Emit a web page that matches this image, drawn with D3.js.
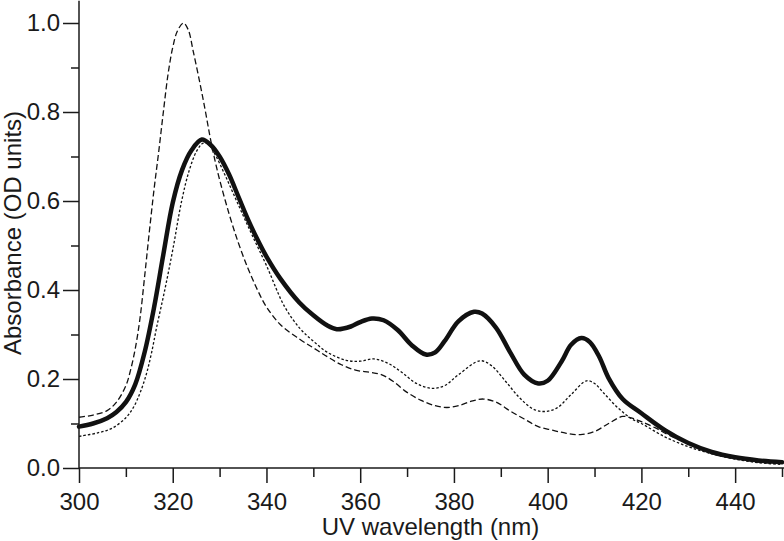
<!DOCTYPE html>
<html>
<head>
<meta charset="utf-8">
<script src="https://cdn.jsdelivr.net/npm/d3@7"></script>
<style>
  html, body { margin: 0; padding: 0; background: #fff; }
  svg { display: block; }
  text { font-family: "Liberation Sans", Arial, sans-serif; }
</style>
</head>
<body>
<svg id="chart" width="784" height="541"></svg>
<script>
// ---- data (wavelength nm, absorbance OD) ----
const solidWl = [300,303,306,308,310,312,314,316,318,320,322,324,326.2,328,330,332,334,336,338,340,343,347,350,353,355,358,360,362.5,365,368,371,374,376,378,381,384.3,386,389,392,395,398,400,403,405,407.2,409,411,413,416,420,425,430,435,440,445,450];
const solidAbs = [0.093,0.100,0.112,0.126,0.148,0.188,0.260,0.360,0.480,0.596,0.670,0.714,0.738,0.727,0.700,0.660,0.610,0.560,0.515,0.475,0.425,0.372,0.343,0.320,0.312,0.318,0.328,0.336,0.332,0.310,0.276,0.255,0.260,0.285,0.330,0.351,0.347,0.315,0.260,0.210,0.190,0.196,0.240,0.277,0.292,0.283,0.250,0.202,0.155,0.123,0.085,0.056,0.036,0.024,0.017,0.013];

const dashWl = [300,303,306,308,310,311,312,313,314,315,316,317,318,319,320,321,322.3,323.3,324.4,325.8,327,328,329,330,332,334,336,338,340,343,347,350,353,356,359,362,364.5,367,370,373,376,378.5,381,384,386.3,389,392,395,398,401,404,407,410,413,416,418,420,423,426,430,435,440,445,450];
const dashAbs = [0.114,0.119,0.129,0.148,0.185,0.220,0.268,0.335,0.430,0.530,0.625,0.710,0.800,0.885,0.945,0.982,1.000,0.985,0.935,0.865,0.800,0.742,0.692,0.648,0.572,0.506,0.450,0.402,0.362,0.322,0.290,0.270,0.250,0.232,0.220,0.215,0.210,0.195,0.170,0.152,0.140,0.136,0.140,0.151,0.155,0.148,0.128,0.110,0.093,0.085,0.078,0.075,0.082,0.100,0.116,0.112,0.104,0.090,0.073,0.055,0.035,0.022,0.013,0.010];

const dotWl = [300,304,307,310,311.6,313,314.4,315.5,316.6,318.3,320,321.9,323.5,325.1,326.5,327.5,329,331,333,335,337,340,343.9,347.2,350,353,357,360,363,366,369,372,375.3,378,381,385.6,388,391,394,397,399.5,402,405,408.3,410,412,415,418,420,425,430,435,440,445,450];
const dotAbs = [0.071,0.079,0.089,0.113,0.136,0.168,0.212,0.260,0.318,0.400,0.490,0.600,0.668,0.712,0.730,0.728,0.705,0.662,0.615,0.568,0.522,0.455,0.362,0.313,0.285,0.260,0.242,0.240,0.245,0.235,0.214,0.190,0.179,0.185,0.210,0.241,0.230,0.195,0.158,0.132,0.127,0.135,0.165,0.196,0.190,0.168,0.135,0.110,0.100,0.070,0.048,0.032,0.020,0.012,0.008];

const xMajorTicks = [300,320,340,360,380,400,420,440];
const xMinorTicks = [310,330,350,370,390,410,430,450];
const yMajorTicks = [0.0,0.2,0.4,0.6,0.8,1.0];
const yMinorTicks = [0.1,0.3,0.5,0.7,0.9];
const xTitle = "UV wavelength (nm)";
const yTitle = "Absorbance (OD units)";

// ---- layout ----
const svg = d3.select("#chart");
const x = d3.scaleLinear().domain([300, 450]).range([79, 782]);
const y = d3.scaleLinear().domain([0, 1.05]).range([468, 0.75]);
const axisColor = "#1a1a1a";

// curves
const line = d3.line().x(d => x(d[0])).y(d => y(d[1])).curve(d3.curveCatmullRom.alpha(0.5));
const zip = (a, b) => a.map((v, i) => [v, b[i]]);

svg.append("path").datum(zip(dashWl, dashAbs))
  .attr("d", line).attr("fill", "none").attr("stroke", "#111")
  .attr("stroke-width", 1.3).attr("stroke-dasharray", "6,3");
svg.append("path").datum(zip(dotWl, dotAbs))
  .attr("d", line).attr("fill", "none").attr("stroke", "#111")
  .attr("stroke-width", 1.3).attr("stroke-dasharray", "2.5,2");
svg.append("path").datum(zip(solidWl, solidAbs))
  .attr("d", line).attr("fill", "none").attr("stroke", "#111")
  .attr("stroke-width", 4.5).attr("stroke-linejoin", "round").attr("stroke-linecap", "round");

// axes
function styleAxis(g) {
  g.select(".domain").remove();
  g.selectAll("line").attr("stroke", axisColor).attr("stroke-width", 1.5);
  g.selectAll("text").attr("fill", axisColor).style("font-size", "24px")
    .style("font-family", '"Liberation Sans", Arial, sans-serif');
}

const gx = svg.append("g").attr("transform", "translate(0,468)");
gx.call(d3.axisBottom(x).tickValues(xMajorTicks).tickSize(15).tickPadding(10).tickFormat(d3.format("d")));
styleAxis(gx);
const gxm = svg.append("g").attr("transform", "translate(0,468)");
gxm.call(d3.axisBottom(x).tickValues(xMinorTicks).tickSize(9).tickFormat(""));
styleAxis(gxm);

const gy = svg.append("g").attr("transform", "translate(79,0)");
gy.call(d3.axisLeft(y).tickValues(yMajorTicks).tickSize(16).tickPadding(3).tickFormat(d3.format(".1f")));
styleAxis(gy);
const gym = svg.append("g").attr("transform", "translate(79,0)");
gym.call(d3.axisLeft(y).tickValues(yMinorTicks).tickSize(8).tickFormat(""));
styleAxis(gym);

// axis lines
svg.append("line").attr("x1", 79).attr("x2", 79).attr("y1", y(1.05)).attr("y2", 468)
  .attr("stroke", axisColor).attr("stroke-width", 1.5);
svg.append("line").attr("x1", 79).attr("x2", 784).attr("y1", 468).attr("y2", 468)
  .attr("stroke", axisColor).attr("stroke-width", 1.5);

// titles
svg.append("text").attr("x", (x(300) + x(450)) / 2).attr("y", 535)
  .attr("text-anchor", "middle").attr("fill", axisColor).style("font-size", "24px")
  .text(xTitle);
svg.append("text").attr("transform", "translate(21,233) rotate(-90)")
  .attr("text-anchor", "middle").attr("fill", axisColor).style("font-size", "24px")
  .text(yTitle);
</script>
</body>
</html>
